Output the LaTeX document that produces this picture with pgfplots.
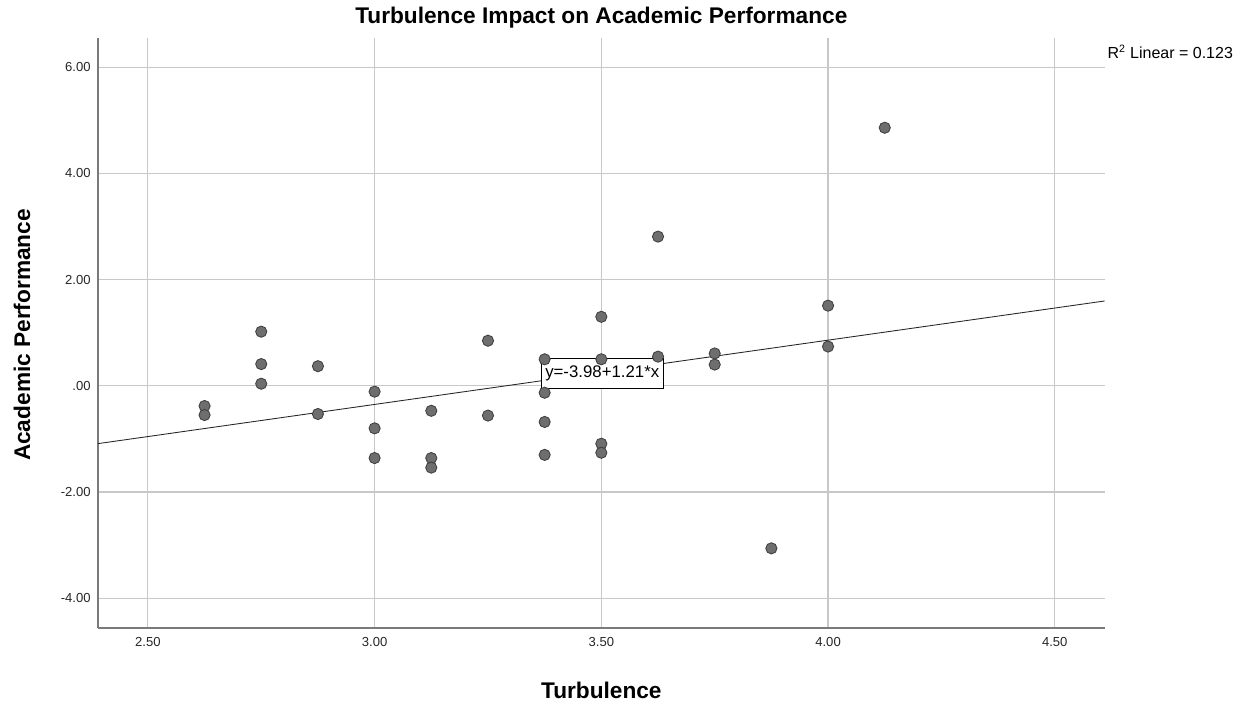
\documentclass[border=0pt]{standalone}
\usepackage{pgfplots}
\pgfplotsset{compat=1.18}
\usepackage{fontspec}
\setmainfont{Liberation Sans}
\definecolor{gridc}{HTML}{C8C8C8}
\definecolor{markc}{HTML}{6E6E6E}
\definecolor{axc}{HTML}{7A7A7A}
\begin{document}
\begin{tikzpicture}
\useasboundingbox (-73.5pt,-56.25pt) rectangle (858pt,471pt);
\begin{axis}[
  at={(0,0)}, anchor=south west,
  scale only axis, width=755pt, height=442.5pt,
  xmin=2.39, xmax=4.61, ymin=-4.56, ymax=6.55,
  axis lines=left,
  axis line style={-, draw=axc, line width=1pt},
  xtick={2.5,3,3.5,4,4.5},
  xticklabels={2.50,3.00,3.50,4.00,4.50},
  ytick={-4,-2,0,2,4,6},
  yticklabels={-4.00,-2.00,.00,2.00,4.00,6.00},
  grid=major,
  grid style={draw=gridc, line width=0.9pt},
  major tick length=0pt,
  tick label style={font=\fontsize{9.8}{11}\selectfont, text=black!85},
  /pgf/number format/assume math mode=true,
  xticklabel style={yshift=-3.5pt},
  yticklabel style={xshift=-2pt},
  clip=false,
]
\addplot[only marks, mark=*, mark size=4.2pt,
  mark options={fill=markc, draw=black!75, line width=0.65pt}]
  table {
x y
2.625 -0.38
2.625 -0.55
2.75 1.02
2.75 0.41
2.75 0.04
2.875 0.37
2.875 -0.53
3.00 -0.11
3.00 -0.80
3.00 -1.36
3.125 -0.47
3.125 -1.36
3.125 -1.54
3.25 0.85
3.25 -0.56
3.375 0.50
3.375 -0.13
3.375 -0.68
3.375 -1.30
3.50 1.30
3.50 0.50
3.50 -1.09
3.50 -1.26
3.625 2.81
3.625 0.55
3.75 0.61
3.75 0.40
3.875 -3.06
4.00 1.51
4.00 0.74
4.125 4.86
};
\addplot[black!85, line width=0.65pt] coordinates {(2.39,-1.0881) (4.61,1.5981)};
\node[draw=black, line width=0.75pt, fill=white, inner xsep=3pt, minimum height=23pt,
  font=\fontsize{12.6}{14}\selectfont] at (axis cs:3.502,0.235) {y=-3.98+1.21*x};
\node[anchor=west, font=\fontsize{12}{14}\selectfont, inner sep=0pt]
  at ([xshift=2pt,yshift=-10.5pt]rel axis cs:1,1) {R\textsuperscript{2} Linear = 0.123};
\end{axis}
\node[font=\bfseries\fontsize{17}{19}\selectfont] at (377.5pt,457.5pt) {Turbulence Impact on Academic Performance};
\node[font=\bfseries\fontsize{17}{19}\selectfont] at (377.5pt,-46.5pt) {Turbulence};
\node[font=\bfseries\fontsize{17}{19}\selectfont, rotate=90] at (-57pt,219.75pt) {Academic Performance};
\end{tikzpicture}
\end{document}
